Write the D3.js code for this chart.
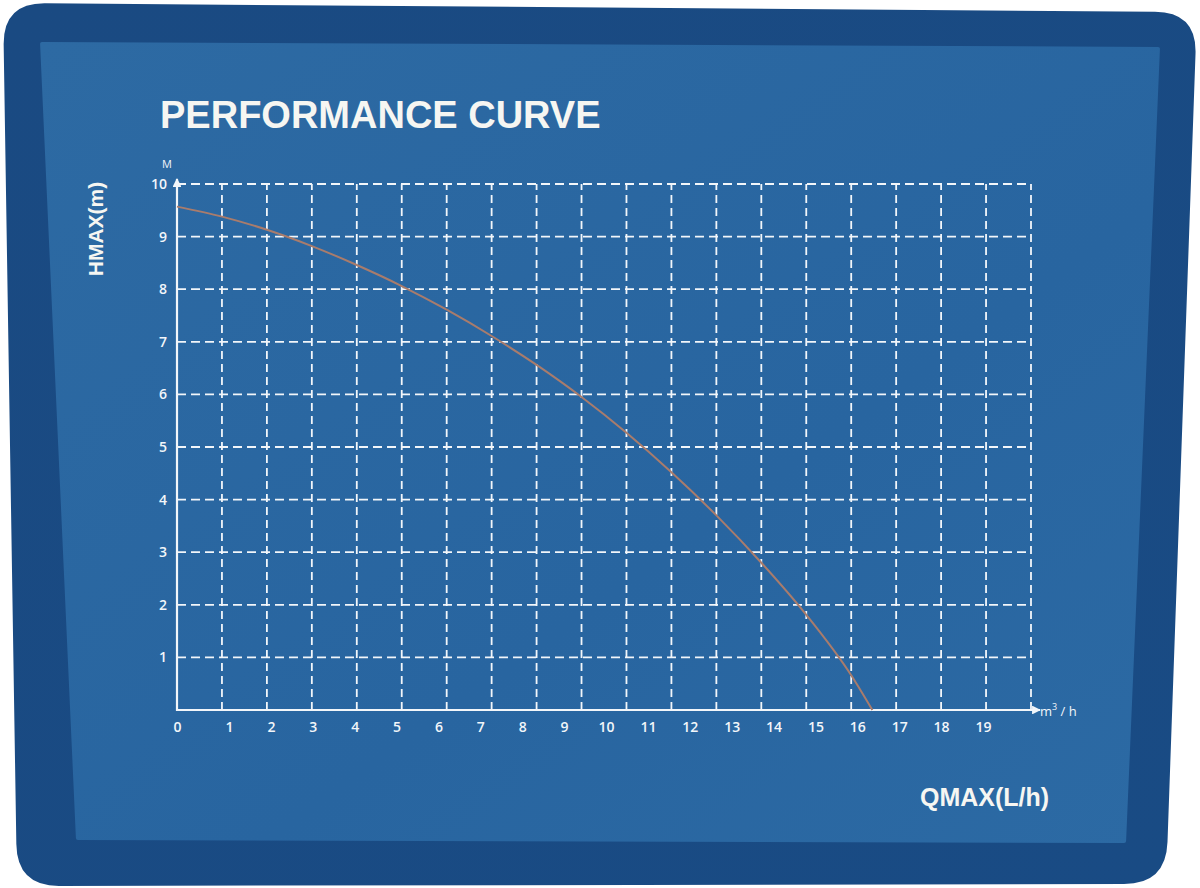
<!DOCTYPE html>
<html>
<head>
<meta charset="utf-8">
<script src="https://cdn.jsdelivr.net/npm/d3@7"></script>
<style>
  html, body { margin: 0; padding: 0; background: #ffffff; }
  svg { display: block; }
</style>
</head>
<body>
<svg id="chart" width="1200" height="888"></svg>
<script>
// ---- data ----
const flowQ = [0, 1, 2, 3, 4, 5, 6, 7, 8, 9, 10, 11, 12, 13, 14, 15, 15.47];   // m3/h
const headH = [9.57, 9.38, 9.13, 8.82, 8.46, 8.06, 7.61, 7.11, 6.56, 5.95, 5.27, 4.52, 3.70, 2.80, 1.81, 0.66, 0]; // m
const xTickValues = [0,1,2,3,4,5,6,7,8,9,10,11,12,13,14,15,16,17,18,19];
const yTickValues = [1,2,3,4,5,6,7,8,9,10];
const titleText = "PERFORMANCE CURVE";
const yTitle = "HMAX(m)";
const xTitle = "QMAX(L/h)";
const yUnit = "M";

const svg = d3.select("#chart");
const W = 1200, H = 888;

// ---- card background (photographed print, slightly skewed) ----
function roundedQuad(pts, r) {
  const p = d3.path();
  const n = pts.length;
  for (let i = 0; i < n; i++) {
    const prev = pts[(i - 1 + n) % n], cur = pts[i], next = pts[(i + 1) % n];
    const d1 = Math.hypot(cur[0]-prev[0], cur[1]-prev[1]);
    const d2 = Math.hypot(next[0]-cur[0], next[1]-cur[1]);
    const a = [cur[0] + (prev[0]-cur[0]) * r / d1, cur[1] + (prev[1]-cur[1]) * r / d1];
    const b = [cur[0] + (next[0]-cur[0]) * r / d2, cur[1] + (next[1]-cur[1]) * r / d2];
    if (i === 0) p.moveTo(a[0], a[1]); else p.lineTo(a[0], a[1]);
    p.quadraticCurveTo(cur[0], cur[1], b[0], b[1]);
  }
  p.closePath();
  return p.toString();
}
svg.append("rect").attr("width", W).attr("height", H).attr("fill", "#ffffff");

const defs = svg.append("defs");
const gOuter = defs.append("linearGradient").attr("id", "outerG")
  .attr("x1", "0").attr("y1", "0").attr("x2", "1").attr("y2", "1");
gOuter.append("stop").attr("offset", "0").attr("stop-color", "#1a4a82");
gOuter.append("stop").attr("offset", "1").attr("stop-color", "#194b84");
const gInner = defs.append("linearGradient").attr("id", "innerG")
  .attr("x1", "0").attr("y1", "0").attr("x2", "1").attr("y2", "1");
gInner.append("stop").attr("offset", "0").attr("stop-color", "#2d6aa3");
gInner.append("stop").attr("offset", "0.6").attr("stop-color", "#2865a0");
gInner.append("stop").attr("offset", "1").attr("stop-color", "#2c6aa4");

svg.append("path")
  .attr("d", roundedQuad([[3,3],[1197,12],[1166,884],[17,886]], 42))
  .attr("fill", "url(#outerG)");
svg.append("path")
  .attr("d", roundedQuad([[40,42],[1160,47],[1126,843],[76,840]], 2))
  .attr("fill", "url(#innerG)");

// ---- scales ----
const x = d3.scaleLinear().domain([0, 19]).range([177, 1031]);
const y = d3.scaleLinear().domain([0, 10]).range([710, 184]);
// the printed tick labels sit on their own (tighter) spacing
const xLabel = d3.scaleLinear().domain([0, 1, 19]).range([177, 229, 983]);

const white = "#f2f6fa";

// ---- gridlines ----
const grid = svg.append("g");
grid.selectAll("line.h").data(yTickValues).join("line")
  .attr("x1", x(0)).attr("x2", x(19))
  .attr("y1", d => y(d)).attr("y2", d => y(d))
  .attr("stroke", white).attr("stroke-width", 1.8)
  .attr("stroke-dasharray", "9,5");
grid.selectAll("line.v").data(xTickValues.filter(d => d > 0)).join("line")
  .attr("x1", d => x(d)).attr("x2", d => x(d))
  .attr("y1", y(0)).attr("y2", y(10))
  .attr("stroke", white).attr("stroke-width", 1.8)
  .attr("stroke-dasharray", "8,5");

// ---- axes lines with arrows ----
defs.append("marker").attr("id", "arrow")
  .attr("viewBox", "0 0 10 10").attr("refX", 9).attr("refY", 5)
  .attr("markerWidth", 4).attr("markerHeight", 4).attr("orient", "auto")
  .attr("markerUnits", "strokeWidth")
  .append("path").attr("d", "M0,0 L10,5 L0,10 z").attr("fill", white);

svg.append("line")
  .attr("x1", x(0)).attr("x2", x(19) + 9)
  .attr("y1", y(0)).attr("y2", y(0))
  .attr("stroke", white).attr("stroke-width", 2.2)
  .attr("marker-end", "url(#arrow)");
svg.append("line")
  .attr("x1", x(0)).attr("x2", x(0))
  .attr("y1", y(0) + 1).attr("y2", y(10) - 5)
  .attr("stroke", white).attr("stroke-width", 2.2)
  .attr("marker-end", "url(#arrow)");

// ---- tick labels via d3 axes ----
const labelFont = "'Open Sans', 'Noto Sans', sans-serif";
const xAxis = svg.append("g")
  .attr("transform", `translate(0,${y(0) + 12})`)
  .call(d3.axisBottom(xLabel).tickValues(xTickValues).tickSize(0).tickPadding(0).tickFormat(d3.format("d")));
xAxis.select(".domain").remove();
xAxis.selectAll("text")
  .attr("fill", white).attr("font-family", labelFont)
  .attr("font-size", 14).attr("font-weight", 600);

const yAxis = svg.append("g")
  .attr("transform", `translate(${x(0)},0)`)
  .call(d3.axisLeft(y).tickValues(yTickValues).tickSize(0).tickPadding(10).tickFormat(d3.format("d")));
yAxis.select(".domain").remove();
yAxis.selectAll("text")
  .attr("fill", white).attr("font-family", labelFont)
  .attr("font-size", 14).attr("font-weight", 600);

// unit labels
svg.append("text").attr("x", x(0) - 10).attr("y", y(10) - 16)
  .attr("fill", white).attr("font-family", labelFont).attr("font-size", 11)
  .attr("text-anchor", "middle").text(yUnit);

const unit = svg.append("text").attr("x", 1040).attr("y", y(0) + 6)
  .attr("fill", white).attr("font-family", labelFont).attr("font-size", 13);
unit.append("tspan").text("m");
unit.append("tspan").attr("dy", -6).attr("font-size", 9).text("3");
unit.append("tspan").attr("dy", 6).text(" / h");

// ---- performance curve ----
const line = d3.line()
  .x((d, i) => x(flowQ[i]))
  .y((d, i) => y(headH[i]))
  .curve(d3.curveMonotoneX);
svg.append("path")
  .datum(flowQ)
  .attr("d", line)
  .attr("fill", "none")
  .attr("stroke", "#a97c6c")
  .attr("stroke-width", 2);

// ---- titles ----
const boldFont = "'Liberation Sans', Arial, sans-serif";
svg.append("text").attr("x", 160).attr("y", 128)
  .attr("fill", "#f6f6f2").attr("font-family", boldFont)
  .attr("font-weight", "bold").attr("font-size", 38)
  .text(titleText);

svg.append("text")
  .attr("transform", "translate(103,229) rotate(-90)")
  .attr("text-anchor", "middle")
  .attr("fill", "#f6f6f2").attr("font-family", boldFont)
  .attr("font-weight", "bold").attr("font-size", 21)
  .text(yTitle);

svg.append("text").attr("x", 920).attr("y", 806)
  .attr("fill", "#f6f6f2").attr("font-family", boldFont)
  .attr("font-weight", "bold").attr("font-size", 25)
  .text(xTitle);
</script>
</body>
</html>
